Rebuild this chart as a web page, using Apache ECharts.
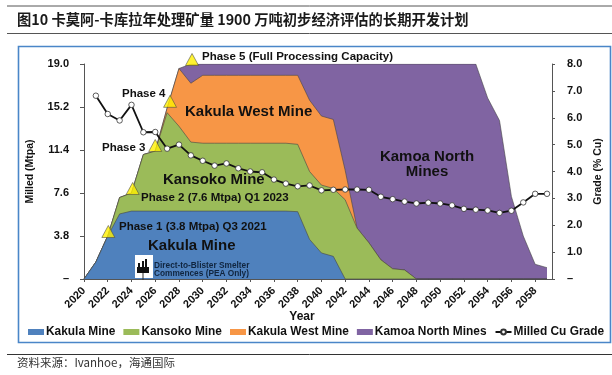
<!DOCTYPE html>
<html>
<head>
<meta charset="utf-8">
<style>
html, body { margin: 0; padding: 0; background: #fff; }
#chart { width: 612px; height: 375px; }
</style>
<script src="https://cdn.jsdelivr.net/npm/echarts@6/dist/echarts.min.js"></script>
</head>
<body>
<div id="chart"></div>
<script>
const years = [];
for (let y = 2020; y <= 2059; y++) years.push(y);

// top edge of each band in Mtpa (already cumulative), 2020 to 2059
const kakulaTop = [0, 1.5, 3.8, 5.75, 6, 6, 6, 6, 6, 6, 6, 6, 6, 6, 6, 6, 6, 6, 5.95, 3.5, 2.3, 2, 0,
    0, 0, 0, 0, 0, 0, 0, 0, 0, 0, 0, 0, 0, 0, 0, 0, 0];
const kansokoTop = [0, 1.5, 3.8, 7.2, 7.6, 11, 11.3, 14.7, 13.5, 12.1, 12, 12, 12, 12, 12, 12, 12, 12, 11.9, 9.5, 8.3, 8, 7,
    4.5, 3.2, 1.7, 0.9, 0.8, 0, 0, 0, 0, 0, 0, 0, 0, 0, 0, 0, 0];
const kakulaWestTop = [0, 1.5, 3.8, 7.2, 7.6, 11, 11.3, 15.1, 18.6, 17.3, 18, 18, 18, 18, 18, 18, 18, 18, 18, 15.8, 14.4, 14.1, 9.6,
    4.5, 3.2, 1.7, 0.9, 0.8, 0, 0, 0, 0, 0, 0, 0, 0, 0, 0, 0, 0];
const kamoaNorthTop = [0, 1.5, 3.8, 7.2, 7.6, 11, 11.3, 15.1, 18.6, 19, 19, 19, 19, 19, 19, 19, 19, 19, 19, 19, 19, 19, 19,
    19, 19, 19, 19, 19, 19, 19, 19, 19, 19, 19, 16, 14, 7.3, 3.8, 1.3, 1];
const gradeYears = years.slice(1);
const grade = [6.82, 6.14, 5.9, 6.48, 5.46, 5.47, 4.85, 5, 4.6, 4.4, 4.22, 4.3, 4.12, 4, 3.97, 3.7, 3.55, 3.45, 3.48,
    3.3, 3.32, 3.33, 3.33, 3.32, 3.06, 2.97, 2.88, 2.81, 2.84, 2.81, 2.74, 2.61, 2.58, 2.55, 2.46, 2.54, 2.85, 3.17, 3.17];
const phaseYears = [2022.05, 2024.1, 2026, 2027.25, 2029.1];
const phaseLevels = [4.2, 8, 11.8, 15.7, 19.4];

const sans = '"Liberation Sans", Arial, sans-serif';
const cjk = '"Noto Sans CJK SC", sans-serif';

// painted back to front, so the lower bands cover the taller ones
function band(name, values, color, z) {
    return {
        name,
        type: 'line',
        symbol: 'none',
        data: years.map((y, i) => [y, values[i]]),
        lineStyle: { width: 0.6, color: '#444' },
        itemStyle: { color },
        areaStyle: { color, opacity: 1 },
        z
    };
}

function note(x, y, text, size, color) {
    return {
        type: 'text',
        x,
        y,
        z: 20,
        style: {
            text,
            fill: color || '#111',
            font: 'bold ' + size + 'px ' + sans,
            textAlign: 'left',
            textVerticalAlign: 'middle'
        }
    };
}

function centered(x, y, text, size) {
    const t = note(x, y, text, size);
    t.style.textAlign = 'center';
    return t;
}

const myEcharts = echarts.init(document.getElementById('chart'));
const option = {
    animation: false,
    backgroundColor: '#fff',
    grid: { left: 84, right: 59, top: 64, bottom: 96 },
    legend: {
        left: 28,
        top: 326,
        itemWidth: 16,
        itemHeight: 6,
        itemGap: 8,
        padding: 0,
        data: [
            { name: 'Kakula Mine', icon: 'rect' },
            { name: 'Kansoko Mine', icon: 'rect' },
            { name: 'Kakula West Mine', icon: 'rect' },
            { name: 'Kamoa North Mines', icon: 'rect' },
            { name: 'Milled Cu Grade' }
        ],
        textStyle: { color: '#111', fontFamily: sans, fontWeight: 'bold', fontSize: 11.9, padding: [0, 0, 0, -3] }
    },
    xAxis: {
        type: 'value',
        min: 2020,
        max: 2059.42,
        interval: 2,
        name: 'Year',
        nameLocation: 'middle',
        nameGap: 32,
        nameMoveOverlap: false,
        nameTextStyle: { color: '#111', fontFamily: sans, fontWeight: 'bold', fontSize: 12, padding: [0, 32, 0, 0] },
        splitLine: { show: false },
        axisLine: { lineStyle: { color: '#555' } },
        axisTick: { length: 3, lineStyle: { color: '#555' } },
        axisLabel: {
            rotate: 45,
            margin: 10,
            color: '#111',
            fontFamily: sans,
            fontWeight: 'bold',
            fontSize: 11,
            showMaxLabel: false,
            formatter: v => String(v)
        }
    },
    yAxis: [{
        type: 'value',
        min: 0,
        max: 19,
        interval: 3.8,
        name: 'Milled (Mtpa)',
        nameLocation: 'middle',
        nameGap: 48,
        nameMoveOverlap: false,
        nameTextStyle: { color: '#111', fontFamily: sans, fontWeight: 'bold', fontSize: 10.5 },
        splitLine: { show: false },
        axisLine: { show: true, lineStyle: { color: '#555' } },
        axisTick: { show: true, length: 4, lineStyle: { color: '#555' } },
        axisLabel: {
            margin: 15,
            color: '#111',
            fontFamily: sans,
            fontWeight: 'bold',
            fontSize: 11,
            formatter: v => v === 0 ? '–' : v.toFixed(1)
        }
    }, {
        type: 'value',
        min: 0,
        max: 8,
        interval: 1,
        position: 'right',
        name: 'Grade (% Cu)',
        nameLocation: 'middle',
        nameGap: 41,
        nameMoveOverlap: false,
        nameTextStyle: { color: '#111', fontFamily: sans, fontWeight: 'bold', fontSize: 10.5 },
        splitLine: { show: false },
        axisLine: { show: true, lineStyle: { color: '#555' } },
        axisTick: { show: true, length: 3, lineStyle: { color: '#555' } },
        axisLabel: {
            margin: 15,
            color: '#111',
            fontFamily: sans,
            fontWeight: 'bold',
            fontSize: 11,
            formatter: v => v === 0 ? '–' : v.toFixed(1)
        }
    }],
    series: [
        band('Kakula Mine', kakulaTop, '#4f81bd', 4),
        band('Kansoko Mine', kansokoTop, '#9bbb59', 3),
        band('Kakula West Mine', kakulaWestTop, '#f79646', 2),
        band('Kamoa North Mines', kamoaNorthTop, '#8064a2', 1),
        {
            name: 'Milled Cu Grade',
            type: 'line',
            yAxisIndex: 1,
            data: gradeYears.map((y, i) => [y, grade[i]]),
            symbol: 'circle',
            symbolSize: 5.5,
            showAllSymbol: true,
            lineStyle: { color: '#111', width: 1.8 },
            itemStyle: { color: '#fff', borderColor: '#333', borderWidth: 0.8 },
            z: 6
        },
        {
            name: 'Phases',
            type: 'scatter',
            clip: false,
            symbol: 'triangle',
            symbolSize: [13, 12],
            data: phaseYears.map((y, i) => [y, phaseLevels[i]]),
            itemStyle: { color: '#fff000', borderColor: '#444', borderWidth: 0.7 },
            z: 7
        }
    ],
    graphic: [
        // report header
        {
            type: 'line', z: 0,
            shape: { x1: 7, y1: 6, x2: 612, y2: 6 },
            style: { stroke: '#555', lineWidth: 1 }
        },
        {
            type: 'line', z: 0,
            shape: { x1: 7, y1: 33.5, x2: 612, y2: 33.5 },
            style: { stroke: '#555', lineWidth: 1 }
        },
        {
            type: 'text', x: 17, y: 20, z: 20,
            style: {
                text: '图10 卡莫阿-卡库拉年处理矿量 1900 万吨初步经济评估的长期开发计划',
                fill: '#1a1a1a',
                font: 'bold 14.3px ' + cjk,
                textVerticalAlign: 'middle'
            }
        },
        {
            type: 'rect', z: 0, silent: true,
            shape: { x: 18.5, y: 46.5, width: 592, height: 296 },
            style: { fill: 'none', stroke: '#4a86c8', lineWidth: 1.6 }
        },
        {
            type: 'line', z: 0,
            shape: { x1: 7, y1: 354.5, x2: 612, y2: 354.5 },
            style: { stroke: '#333', lineWidth: 1 }
        },
        {
            type: 'text', x: 17, y: 363, z: 20,
            style: {
                text: '资料来源：Ivanhoe，海通国际',
                fill: '#333',
                font: '11.5px ' + cjk,
                textVerticalAlign: 'middle'
            }
        },
        // phase notes
        note(202, 57, 'Phase 5 (Full Processing Capacity)', 11.5),
        note(122, 94, 'Phase 4', 11.5),
        note(102, 148, 'Phase 3', 11.5),
        note(141, 198, 'Phase 2 (7.6 Mtpa) Q1 2023', 11.5),
        note(119, 227, 'Phase 1 (3.8 Mtpa) Q3 2021', 11.5),
        // mine names
        note(185, 112, 'Kakula West Mine', 15),
        note(163, 180, 'Kansoko Mine', 15),
        note(148, 246, 'Kakula Mine', 15),
        centered(427, 157, 'Kamoa North', 15),
        centered(427, 172, 'Mines', 15),
        // smelter badge
        {
            type: 'rect', z: 19,
            shape: { x: 135, y: 255, width: 18, height: 23 },
            style: { fill: '#fff' }
        },
        { type: 'rect', z: 20, shape: { x: 137, y: 267, width: 12, height: 6 }, style: { fill: '#111' } },
        { type: 'rect', z: 20, shape: { x: 138, y: 263, width: 2, height: 4 }, style: { fill: '#111' } },
        { type: 'rect', z: 20, shape: { x: 142, y: 261, width: 2, height: 6 }, style: { fill: '#111' } },
        { type: 'rect', z: 20, shape: { x: 145, y: 259, width: 2, height: 8 }, style: { fill: '#111' } },
        { type: 'rect', z: 20, shape: { x: 142.5, y: 273, width: 1, height: 7 }, style: { fill: '#333' } },
        note(154, 265.5, 'Direct-to-Blister Smelter', 8.3, '#10253f'),
        note(154, 273.5, 'Commences (PEA Only)', 8.3, '#10253f')
    ]
};
myEcharts.setOption(option);
</script>
</body>
</html>
